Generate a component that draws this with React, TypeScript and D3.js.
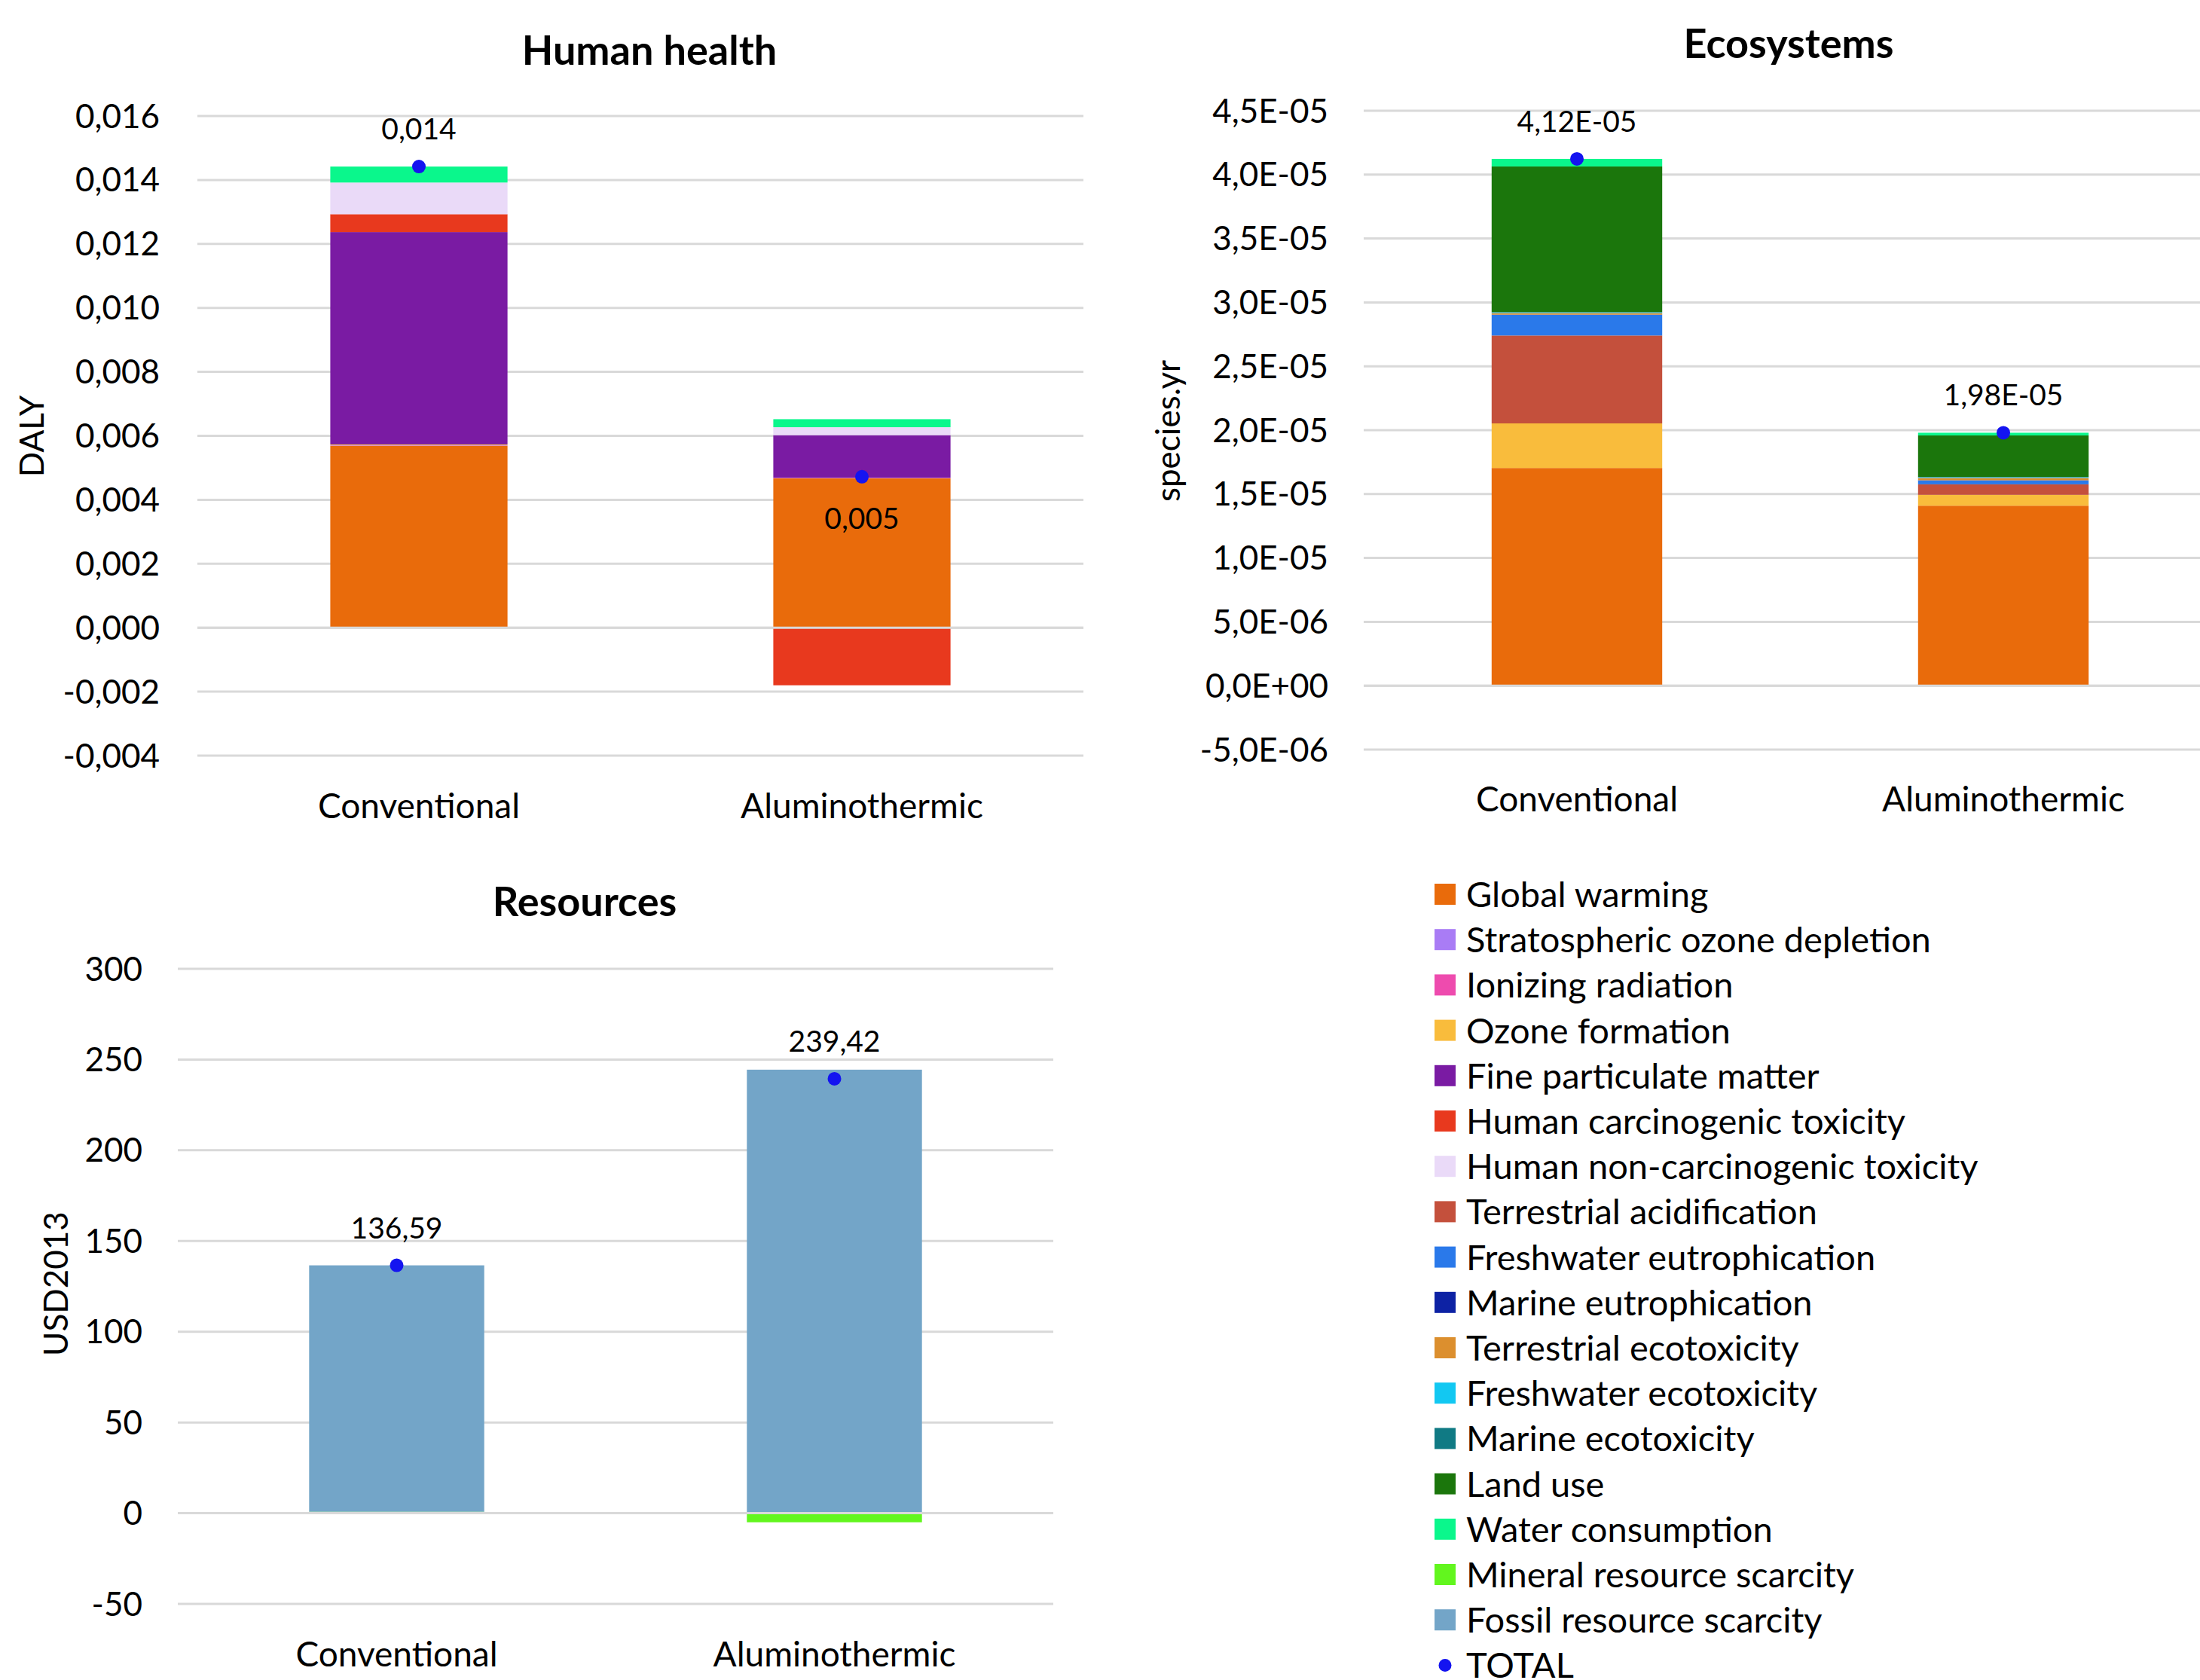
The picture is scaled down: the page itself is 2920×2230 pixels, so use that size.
import React, { useEffect } from 'react';
import * as d3 from 'd3';

// ---------- DATA ----------
const categories = ["Conventional", "Aluminothermic"];

const impactCategories = [
  "Global warming",
  "Stratospheric ozone depletion",
  "Ionizing radiation",
  "Ozone formation",
  "Fine particulate matter",
  "Human carcinogenic toxicity",
  "Human non-carcinogenic toxicity",
  "Terrestrial acidification",
  "Freshwater eutrophication",
  "Marine eutrophication",
  "Terrestrial ecotoxicity",
  "Freshwater ecotoxicity",
  "Marine ecotoxicity",
  "Land use",
  "Water consumption",
  "Mineral resource scarcity",
  "Fossil resource scarcity",
];

const impactColors = [
  "#E96B0B", "#A97CF5", "#EE4BAE", "#F9BC3C", "#7A1BA3", "#E8391E",
  "#EADAF8", "#C4503C", "#2A79EA", "#0D22A4", "#DC8F2E", "#12C8F2",
  "#107A84", "#1B760C", "#0AF78C", "#62F61E", "#73A5C8",
];
const totalColor = "#1414F0";

// Human health (DALY), one value per impact category
const humanHealthConventional = [0.00569, 0.00001, 0.00001, 0.00002, 0.00664, 0.00056, 0.00099, 0, 0, 0, 0, 0, 0, 0, 0.0005, 0, 0];
const humanHealthAluminothermic = [0.00467, 0.00001, 0.00001, 0.0, 0.00133, -0.0018, 0.00025, 0, 0, 0, 0, 0, 0, 0, 0.00025, 0, 0];

// Ecosystems (species.yr)
const ecosystemsConventional = [17.04e-6, 0, 0, 3.49e-6, 0, 0, 0, 6.88e-6, 1.61e-6, 0.02e-6, 0.12e-6, 0.05e-6, 0.03e-6, 11.40e-6, 0.59e-6, 0, 0];
const ecosystemsAluminothermic = [14.09e-6, 0, 0, 0.85e-6, 0, 0, 0, 0.82e-6, 0.30e-6, 0.02e-6, 0.18e-6, 0.05e-6, 0.03e-6, 3.25e-6, 0.21e-6, 0, 0];

// Resources (USD2013)
const resourcesConventional = [0, 0, 0, 0, 0, 0, 0, 0, 0, 0, 0, 0, 0, 0, 0, 0.8, 135.79];
const resourcesAluminothermic = [0, 0, 0, 0, 0, 0, 0, 0, 0, 0, 0, 0, 0, 0, 0, -5.0, 244.42];

// Tick values
const humanHealthTicks = [-0.004, -0.002, 0, 0.002, 0.004, 0.006, 0.008, 0.010, 0.012, 0.014, 0.016];
const ecosystemsTicks = [-5e-6, 0, 5e-6, 10e-6, 15e-6, 20e-6, 25e-6, 30e-6, 35e-6, 40e-6, 45e-6];
const resourcesTicks = [-50, 0, 50, 100, 150, 200, 250, 300];

// Label placement of TOTAL values
const humanHealthLabelPos = ["above", "below"];
const ecosystemsLabelPos = ["above", "above"];
const resourcesLabelPos = ["above", "above"];

// ---------- FORMATTERS ----------
const comma = (s: string) => s.replace('.', ',');
const fmtFixed = (d: number) => (v: number) => {
  const s = v.toFixed(d);
  return comma(/^-0[.,]?0*$/.test(s) ? s.slice(1) : s);
};
const fmtSci = (d: number) => (v: number) => {
  if (Math.abs(v) < 1e-15) return `${(0).toFixed(d).replace('.', ',')}E+00`;
  const e = Math.floor(Math.log10(Math.abs(v)) + 1e-9);
  const m = v / Math.pow(10, e);
  return `${comma(m.toFixed(d))}E${e < 0 ? '-' : '+'}${String(Math.abs(e)).padStart(2, '0')}`;
};

const FONT = "Lato, 'Open Sans', sans-serif";

type PanelCfg = {
  title: string; titleX: number; titleY: number;
  yTitle: string; yTitleX: number; yTitleY: number;
  x0: number; x1: number; gridEnd: number;
  yDomain: [number, number]; yRange: [number, number];
  ticks: number[]; tickFmt: (v: number) => string; tickRight: number;
  catBaseline: number;
  values: number[][]; labelFmt: (v: number) => string; labelPos: string[];
};

function Panel({ cfg }: { cfg: PanelCfg }) {
  const x = d3.scaleBand<string>().domain(categories).range([cfg.x0, cfg.x1]).paddingInner(0.6).paddingOuter(0.3);
  const y = d3.scaleLinear().domain(cfg.yDomain).range(cfg.yRange);
  const rows = categories.map((c, j) => {
    const r: any = { category: c };
    impactCategories.forEach((k, i) => { r[k] = cfg.values[j][i]; });
    return r;
  });
  const stack = d3.stack<any>().keys(impactCategories).offset(d3.stackOffsetDiverging)(rows);
  const totals = categories.map((_, j) => d3.sum(cfg.values[j]));
  const bw = x.bandwidth();
  return (
    <g>
      <text x={cfg.titleX} y={cfg.titleY} textAnchor="middle" fontFamily={FONT} fontWeight={700} fontSize={54} fill="#000">{cfg.title}</text>
      {cfg.ticks.map((t) => (
        <line key={'g' + t} x1={cfg.x0} x2={cfg.gridEnd} y1={y(t)} y2={y(t)} stroke="#D9D9D9" strokeWidth={3} />
      ))}
      {cfg.ticks.map((t) => (
        <text key={'t' + t} x={cfg.tickRight} y={y(t) + 15.5} textAnchor="end" fontFamily={FONT} fontSize={44} fill="#000">{cfg.tickFmt(t)}</text>
      ))}
      <text transform={`translate(${cfg.yTitleX},${cfg.yTitleY}) rotate(-90)`} textAnchor="middle" fontFamily={FONT} fontSize={44} fill="#000">{cfg.yTitle}</text>
      {stack.map((s, i) => s.map((d, j) => {
        const h = Math.abs(y(d[0]) - y(d[1]));
        if (h < 0.01) return null;
        return <rect key={`${i}-${j}`} x={x(categories[j])} width={bw} y={Math.min(y(d[0]), y(d[1]))} height={h} fill={impactColors[i]} />;
      }))}
      <line x1={cfg.x0} x2={cfg.gridEnd} y1={y(0)} y2={y(0)} stroke="#D9D9D9" strokeWidth={3} />
      {categories.map((c, j) => {
        const cx = (x(c) as number) + bw / 2;
        const cy = y(totals[j]);
        const ly = cfg.labelPos[j] === 'above' ? cy - 36 : cy + 69;
        return (
          <g key={'tot' + c}>
            <circle cx={cx} cy={cy} r={9} fill={totalColor} />
            <text x={cx} y={ly} textAnchor="middle" fontFamily={FONT} fontSize={39} fill="#000">{cfg.labelFmt(totals[j])}</text>
            <text x={cx} y={cfg.catBaseline} textAnchor="middle" fontFamily={FONT} fontSize={46} fill="#000">{c}</text>
          </g>
        );
      })}
    </g>
  );
}

const panels: PanelCfg[] = [
  {
    title: "Human health", titleX: 862, titleY: 86,
    yTitle: "DALY", yTitleX: 58, yTitleY: 579,
    x0: 262, x1: 1438, gridEnd: 1438,
    yDomain: [-0.004, 0.016], yRange: [1003, 154],
    ticks: humanHealthTicks, tickFmt: fmtFixed(3), tickRight: 212,
    catBaseline: 1086,
    values: [humanHealthConventional, humanHealthAluminothermic], labelFmt: fmtFixed(3), labelPos: humanHealthLabelPos,
  },
  {
    title: "Ecosystems", titleX: 2374, titleY: 77,
    yTitle: "species.yr", yTitleX: 1566, yTitleY: 572,
    x0: 1810, x1: 2942, gridEnd: 2942,
    yDomain: [-5e-6, 45e-6], yRange: [995, 147],
    ticks: ecosystemsTicks, tickFmt: fmtSci(1), tickRight: 1763,
    catBaseline: 1077,
    values: [ecosystemsConventional, ecosystemsAluminothermic], labelFmt: fmtSci(2), labelPos: ecosystemsLabelPos,
  },
  {
    title: "Resources", titleX: 776, titleY: 1216,
    yTitle: "USD2013", yTitleX: 90, yTitleY: 1704,
    x0: 236, x1: 1398, gridEnd: 1398,
    yDomain: [-50, 300], yRange: [2129, 1286],
    ticks: resourcesTicks, tickFmt: fmtFixed(0), tickRight: 189,
    catBaseline: 2212,
    values: [resourcesConventional, resourcesAluminothermic], labelFmt: fmtFixed(2), labelPos: resourcesLabelPos,
  },
];

function Legend() {
  const x0 = 1904, y0 = 1187, step = 60.2, sw = 28;
  return (
    <g>
      {impactCategories.map((n, i) => (
        <g key={n}>
          <rect x={x0} y={y0 + i * step - sw / 2} width={sw} height={sw} fill={impactColors[i]} />
          <text x={1946} y={y0 + i * step + 17} fontFamily={FONT} fontSize={47} fill="#000">{n}</text>
        </g>
      ))}
      <circle cx={x0 + sw / 2} cy={y0 + impactCategories.length * step} r={8.5} fill={totalColor} />
      <text x={1946} y={y0 + impactCategories.length * step + 17} fontFamily={FONT} fontSize={47} fill="#000">TOTAL</text>
    </g>
  );
}

export default function App() {
  useEffect(() => { document.body.style.margin = '0'; }, []);
  return (
    <svg width={2920} height={2230} style={{ position: 'absolute', left: 0, top: 0, background: '#fff' }}>
      <rect width={2920} height={2230} fill="#fff" />
      {panels.map((p) => <Panel key={p.title} cfg={p} />)}
      <Legend />
    </svg>
  );
}
